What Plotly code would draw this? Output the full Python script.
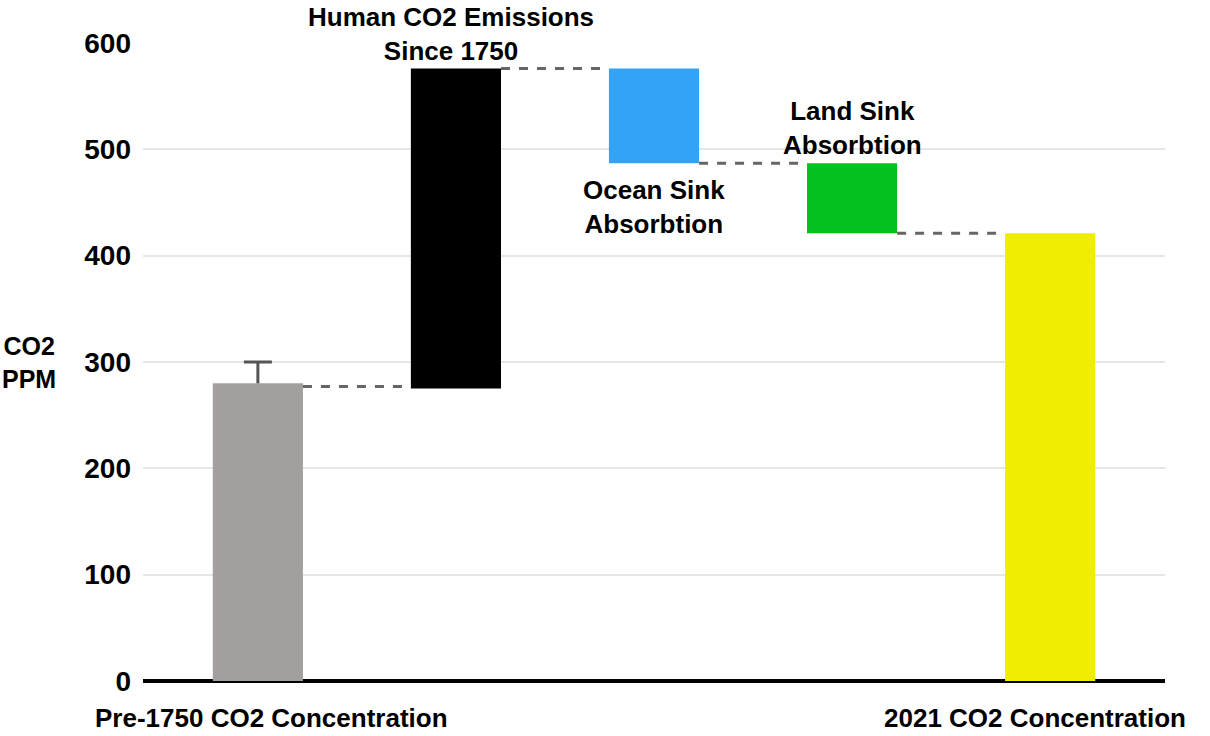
import plotly.graph_objects as go

categories = ["Pre-1750 CO2 Concentration", "Human CO2 Emissions Since 1750",
              "Ocean Sink Absorbtion", "Land Sink Absorbtion", "2021 CO2 Concentration"]
bar_base = [0, 275, 487, 421, 0]
bar_top = [280, 576, 576, 487, 421]
bar_colors = ["#a39f9f", "#000000", "#33a4f5", "#05c21f", "#f0ee00"]
pre_error_top = 300
connector_levels = [277, 576, 487, 421]
y_ticks = [0, 100, 200, 300, 400, 500, 600]

BW = 0.455
FONT = "Liberation Sans"
idx = list(range(len(categories)))

fig = go.Figure()
fig.add_trace(go.Bar(
    x=idx, y=[t - b for t, b in zip(bar_top, bar_base)], base=bar_base,
    width=BW, marker=dict(color=bar_colors, line=dict(width=0)),
    showlegend=False, hoverinfo="skip"))

# error bar on the pre-1750 bar (stem + top cap only)
fig.add_trace(go.Scatter(x=[0, 0], y=[bar_top[0], pre_error_top], mode="lines",
                         line=dict(color="#555555", width=3),
                         showlegend=False, hoverinfo="skip"))
fig.add_trace(go.Scatter(x=[0], y=[pre_error_top], mode="markers",
                         marker=dict(symbol="line-ew", size=20,
                                     line=dict(color="#555555", width=3)),
                         showlegend=False, hoverinfo="skip"))

for i, lvl in enumerate(connector_levels):
    fig.add_trace(go.Scatter(
        x=[i + BW / 2, i + 1 - BW / 2], y=[lvl, lvl], mode="lines",
        line=dict(color="#666666", width=3, dash="dash"),
        showlegend=False, hoverinfo="skip"))

fig.update_layout(
    width=1210, height=736,
    margin=dict(l=143, r=45, t=43, b=55),
    plot_bgcolor="white", paper_bgcolor="white",
    font=dict(family=FONT, color="black"),
    xaxis=dict(range=[-0.58, 4.58], showticklabels=False, showgrid=False,
               zeroline=False, showline=False),
    yaxis=dict(range=[0, 600], tickvals=y_ticks, ticktext=[f"<b>{v}</b>" for v in y_ticks],
               tickfont=dict(size=28, family=FONT, color="black"),
               showgrid=True, gridcolor="#e6e6e6", gridwidth=2,
               zeroline=True, zerolinecolor="black", zerolinewidth=4,
               showline=False, ticks="", ticklabelstandoff=11),
)

def ann(x, y, text, xa="center", ya="middle", xs=0, ys=0, size=26, xref="x", yref="y"):
    fig.add_annotation(x=x, y=y, xref=xref, yref=yref, text=text, showarrow=False,
                       xanchor=xa, yanchor=ya, xshift=xs, yshift=ys,
                       font=dict(size=size, family=FONT, color="black"), align="center")

ann(0, 0, "<b>Pre-1750 CO2 Concentration</b>", ya="top", xs=14, ys=-20)
ann(4, 0, "<b>2021 CO2 Concentration</b>", ya="top", xs=-15, ys=-20)
ann(1, 576, "<b>Human CO2 Emissions<br>Since 1750</b>", ya="bottom", xs=-5, ys=1)
ann(2, 487, "<b>Ocean Sink<br>Absorbtion</b>", ya="top", ys=-10)
ann(3, 487, "<b>Land Sink<br>Absorbtion</b>", ya="bottom", ys=1)
ann(-0.112, 0.5, "<b>CO2<br>PPM</b>", xref="paper", yref="paper", size=25)

fig.write_html("out.html", config={"displayModeBar": False},
               post_script="document.body.style.margin='0';document.body.style.overflow='hidden';")
